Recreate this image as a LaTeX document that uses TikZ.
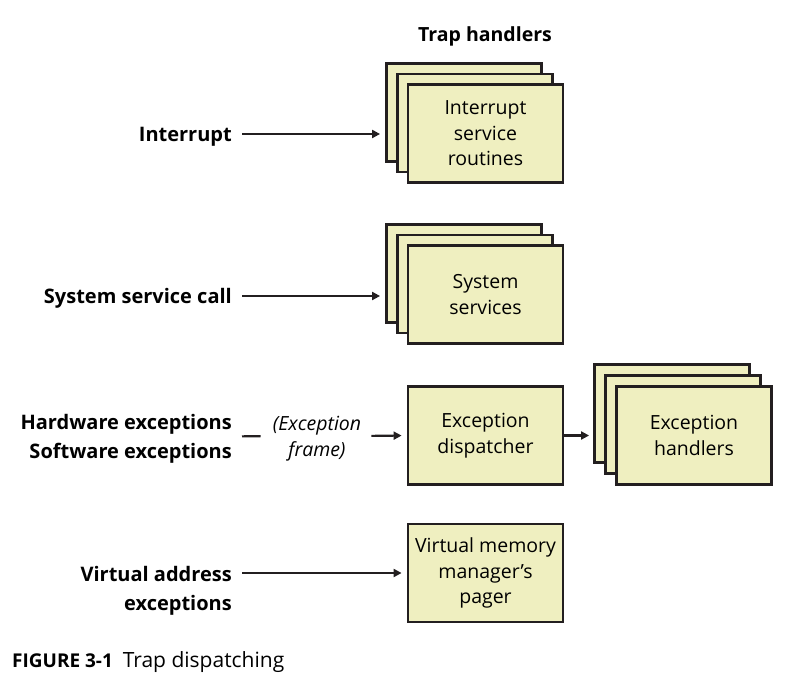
\documentclass[tikz,border=0pt]{standalone}
\usepackage{fontspec}
\setmainfont{Open Sans}
\usetikzlibrary{arrows.meta}
\definecolor{boxfill}{RGB}{239,239,192}
\definecolor{inkline}{RGB}{35,31,32}
\tikzset{
  handler/.style={draw=inkline, line width=2.8pt, fill=boxfill, minimum width=155pt, minimum height=98pt, align=center, inner sep=0pt, font=\fontsize{19.5}{25.5}\selectfont},
  source/.style={anchor=east, align=right, inner sep=0pt, font=\fontsize{20}{28.5}\selectfont\bfseries},
  arr/.style={draw=inkline, line width=2.2pt, -{Triangle[length=8pt,width=8pt]}},
  lin/.style={draw=inkline, line width=2.2pt}
}
\begin{document}
\begin{tikzpicture}[x=1pt,y=-1pt]
\useasboundingbox (0,0) rectangle (811,684);

% Heading
\node (head) at (485,36) {\fontsize{19.5}{24}\selectfont\bfseries Trap handlers};

% Interrupt service routines (stack of three)
\node[handler] (isr3) at (464,112.5) {};
\node[handler] (isr2) at (475,123) {};
\node[handler] (isr1) at (485.5,133.5) {Interrupt\\service\\routines};

% System services (stack of three)
\node[handler] (sys3) at (464,273.5) {};
\node[handler] (sys2) at (475,284) {};
\node[handler] (sys1) at (485.5,294.5) {System\\services};

% Exception dispatcher
\node[handler] (disp) at (485.5,435.5) {Exception\\dispatcher};

% Exception handlers (stack of three)
\node[handler] (exh3) at (672,413.5) {};
\node[handler] (exh2) at (683,424.5) {};
\node[handler] (exh1) at (694,435.5) {Exception\\handlers};

% Virtual memory manager's pager
\node[handler] (pager) at (485.5,573) {Virtual memory\\manager’s\\pager};

% Sources
\node[source] (intr) at (232,137) {Interrupt};
\node[source] (call) at (232,298.5) {System service call};
\node[source] (hwsw) at (232,439) {Hardware exceptions\\Software exceptions};
\node[source] (vaex) at (232,591) {Virtual address\\exceptions};
\node[align=center, inner sep=0pt, font=\fontsize{19.5}{26}\selectfont\itshape] (frame) at (317,438.5) {(Exception\\frame)};

% Connectors
\draw[arr, shorten <=10pt, shorten >=5pt] ([yshift=3pt]intr.east) -- ([yshift=3pt]intr.east -| isr3.west);
\draw[arr, shorten <=10pt, shorten >=5pt] ([yshift=2.5pt]call.east) -- ([yshift=2.5pt]call.east -| sys3.west);
\draw[lin, shorten <=10pt, shorten >=12pt] ([yshift=2.5pt]hwsw.east) -- ([yshift=2.5pt]frame.west);
\draw[arr, shorten <=10pt, shorten >=5pt] ([yshift=2.5pt]frame.east) -- (disp.west);
\draw[arr, shorten >=4pt] (disp.east) -- (disp.east -| exh3.west);
\draw[arr, shorten <=10pt, shorten >=5pt] (vaex.east |- pager.west) -- (pager.west);

% Caption
\node[anchor=west, inner sep=0pt] (caption) at (12,662) {\fontsize{19}{22}\selectfont\bfseries FIGURE 3-1\ \ \fontsize{21}{22}\selectfont\mdseries Trap dispatching};
\end{tikzpicture}
\end{document}
